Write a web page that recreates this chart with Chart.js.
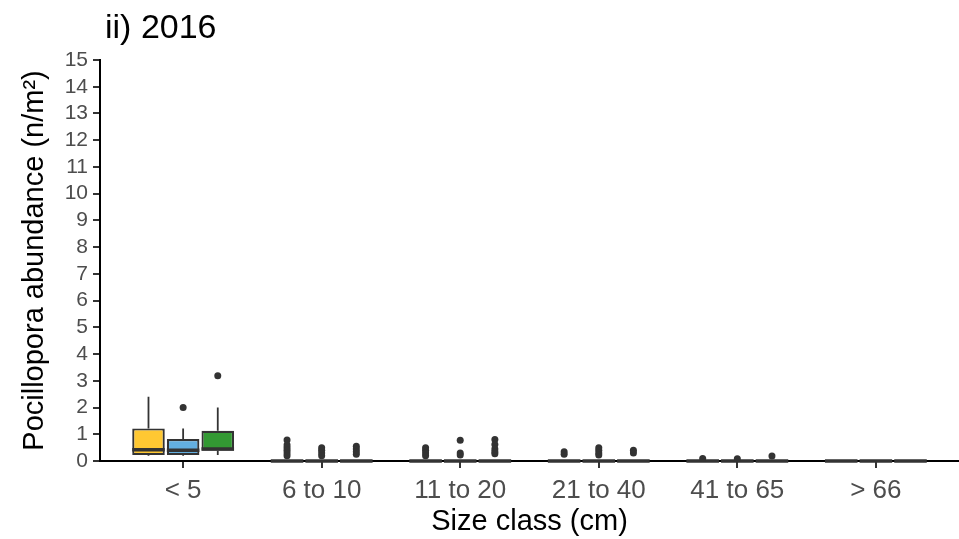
<!DOCTYPE html>
<html>
<head>
<meta charset="utf-8">
<script src="https://cdn.jsdelivr.net/npm/chart.js@4/dist/chart.umd.min.js"></script>
<style>
  html, body { margin: 0; padding: 0; background: #ffffff; }
  #wrap { width: 959px; height: 539px; }
</style>
</head>
<body>
<div id="wrap"><canvas id="c" width="959" height="539"></canvas></div>
<script>
// ---- Data ----
const categories = ['< 5', '6 to 10', '11 to 20', '21 to 40', '41 to 65', '> 66'];
const yTicks = [0, 1, 2, 3, 4, 5, 6, 7, 8, 9, 10, 11, 12, 13, 14, 15];

// Series A (yellow)
const aLow  = [0.20, 0, 0, 0, 0, 0];
const aQ1   = [0.22, 0, 0, 0, 0, 0];
const aMed  = [0.42, 0, 0, 0, 0, 0];
const aQ3   = [1.22, 0, 0, 0, 0, 0];
const aHigh = [2.40, 0, 0, 0, 0, 0];
const aOut  = [[], [0.79, 0.6, 0.5, 0.4, 0.3, 0.2], [0.5, 0.4, 0.3, 0.2], [0.35, 0.25], [0.09], []];

// Series B (blue)
const bLow  = [0.20, 0, 0, 0, 0, 0];
const bQ1   = [0.22, 0, 0, 0, 0, 0];
const bMed  = [0.40, 0, 0, 0, 0, 0];
const bQ3   = [0.82, 0, 0, 0, 0, 0];
const bHigh = [1.22, 0, 0, 0, 0, 0];
const bOut  = [[2.0], [0.5, 0.4, 0.3, 0.2], [0.78, 0.3, 0.22], [0.5, 0.4, 0.3, 0.22], [0.08], []];

// Series C (green)
const cLow  = [0.22, 0, 0, 0, 0, 0];
const cQ1   = [0.38, 0, 0, 0, 0, 0];
const cMed  = [0.45, 0, 0, 0, 0, 0];
const cQ3   = [1.13, 0, 0, 0, 0, 0];
const cHigh = [2.00, 0, 0, 0, 0, 0];
const cOut  = [[3.19], [0.55, 0.45, 0.35, 0.25], [0.8, 0.62, 0.45, 0.35, 0.27], [0.4, 0.3], [0.19], []];

const seriesColors = ['#FFC832', '#63AFE0', '#339933'];
const edge = '#333333';

const series = [
  { name: 'A', low: aLow, q1: aQ1, med: aMed, q3: aQ3, high: aHigh, out: aOut },
  { name: 'B', low: bLow, q1: bQ1, med: bMed, q3: bQ3, high: bHigh, out: bOut },
  { name: 'C', low: cLow, q1: cQ1, med: cMed, q3: cQ3, high: cHigh, out: cOut }
];

const FONT = "'Liberation Sans', Arial, Helvetica, sans-serif";

// ---- Box-plot extras drawn through the chart's scales ----
const boxExtras = {
  id: 'boxExtras',
  beforeDatasetsDraw(chart) {
    const ctx = chart.ctx, y = chart.scales.y;
    ctx.save();
    ctx.strokeStyle = edge;
    ctx.lineWidth = 1.8;
    series.forEach((s, d) => {
      chart.getDatasetMeta(d).data.forEach((el, i) => {
        ctx.beginPath();
        ctx.moveTo(el.x, y.getPixelForValue(s.high[i]));
        ctx.lineTo(el.x, y.getPixelForValue(s.q3[i]));
        ctx.moveTo(el.x, y.getPixelForValue(s.q1[i]));
        ctx.lineTo(el.x, y.getPixelForValue(s.low[i]));
        ctx.stroke();
      });
    });
    ctx.restore();
  },
  afterDatasetsDraw(chart) {
    const ctx = chart.ctx, y = chart.scales.y;
    ctx.save();
    series.forEach((s, d) => {
      chart.getDatasetMeta(d).data.forEach((el, i) => {
        const half = el.width / 2;
        ctx.strokeStyle = edge;
        ctx.lineWidth = 3.6;
        ctx.beginPath();
        const ym = y.getPixelForValue(s.med[i]);
        ctx.moveTo(el.x - half, ym);
        ctx.lineTo(el.x + half, ym);
        ctx.stroke();
        ctx.fillStyle = edge;
        s.out[i].forEach(v => {
          ctx.beginPath();
          ctx.arc(el.x, y.getPixelForValue(v), 3.5, 0, Math.PI * 2);
          ctx.fill();
        });
      });
    });
    ctx.restore();
  }
};

const headTitle = {
  id: 'headTitle',
  afterDraw(chart) {
    const ctx = chart.ctx;
    ctx.save();
    ctx.fillStyle = '#000000';
    ctx.font = '34px ' + FONT;
    ctx.textBaseline = 'alphabetic';
    ctx.textAlign = 'left';
    ctx.fillText('ii) 2016', 105, 38);
    ctx.restore();
  }
};

new Chart(document.getElementById('c'), {
  type: 'bar',
  data: {
    datasets: series.map((s, d) => ({
      label: s.name,
      data: categories.map((c, i) => ({ x: i + 1, y: [s.q1[i], s.q3[i]] })),
      backgroundColor: seriesColors[d],
      borderColor: edge,
      borderWidth: 2.2,
      borderSkipped: false,
      categoryPercentage: 0.75,
      barPercentage: 0.94
    }))
  },
  options: {
    responsive: false,
    animation: false,
    layout: { padding: { top: 60, left: 0, right: 0, bottom: 0 } },
    plugins: { legend: { display: false }, tooltip: { enabled: false } },
    scales: {
      x: {
        type: 'linear',
        offset: false,
        min: 0.4,
        max: 6.6,
        afterBuildTicks: sc => { sc.ticks = categories.map((c, i) => ({ value: i + 1 })); },
        afterFit: sc => { sc.height = 78; },
        ticks: {
          callback: v => categories[Math.round(v) - 1],
          font: { family: FONT, size: 26 },
          color: '#4D4D4D',
          padding: 7,
          maxRotation: 0,
          autoSkip: false
        },
        grid: { display: true, offset: false, drawOnChartArea: false, drawTicks: true, tickLength: 7, color: edge, lineWidth: 2 },
        border: { display: true, color: '#000000', width: 2 },
        title: {
          display: true,
          text: 'Size class (cm)',
          font: { family: FONT, size: 29 },
          color: '#000000',
          padding: { top: 0, bottom: 0 }
        }
      },
      y: {
        min: 0,
        max: 15,
        afterBuildTicks: sc => { sc.ticks = yTicks.map(v => ({ value: v })); },
        afterFit: sc => { sc.width = 100; },
        ticks: {
          font: { family: FONT, size: 21 },
          color: '#4D4D4D',
          padding: 5,
          autoSkip: false
        },
        grid: { display: true, drawOnChartArea: false, drawTicks: true, tickLength: 7, color: edge, lineWidth: 2 },
        border: { display: true, color: '#000000', width: 2 },
        title: {
          display: true,
          text: 'Pocillopora abundance (n/m²)',
          font: { family: FONT, size: 29 },
          color: '#000000',
          padding: { top: 18, bottom: 0 }
        }
      }
    }
  },
  plugins: [boxExtras, headTitle]
});
</script>
</body>
</html>
